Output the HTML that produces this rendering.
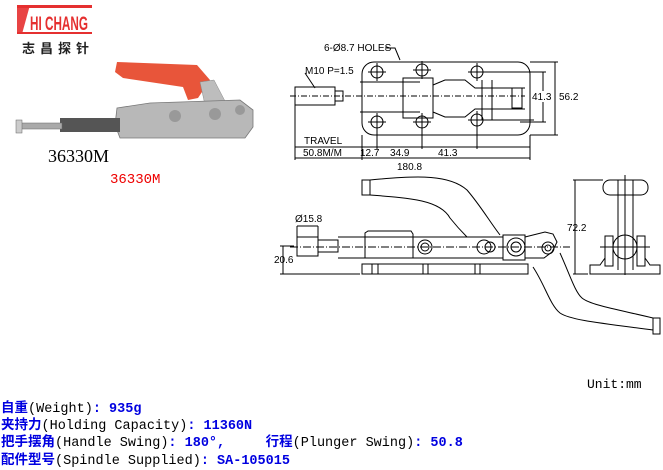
<!DOCTYPE html>
<html><head><meta charset="utf-8"><style>
body{margin:0;width:663px;height:470px;background:#fff;overflow:hidden;position:relative;font-family:"Liberation Sans","Noto Sans CJK SC",sans-serif}
.t{position:absolute;white-space:nowrap}
.info{position:absolute;left:1px;font-family:"Liberation Mono","Noto Sans CJK SC",monospace;font-size:13.5px;line-height:17px;color:#000;white-space:nowrap}
.b{color:#0000e0;font-weight:bold}
</style></head><body>
<svg width="663" height="470" style="position:absolute;left:0;top:0" font-family="Liberation Sans, sans-serif">
<!-- logo -->
<rect x="17" y="5" width="75" height="3" fill="#e53030"/>
<polygon points="17,5 30,5 22,34 17,34" fill="#e53030" opacity="0.9"/>
<rect x="17" y="32" width="75" height="2" fill="#e53030"/>
<text x="30" y="30" font-size="19" font-weight="bold" fill="#e53030" textLength="58" lengthAdjust="spacingAndGlyphs">HI CHANG</text>
<text x="22" y="53" font-size="13" font-weight="bold" fill="#222" font-family="Noto Sans CJK SC,sans-serif" letter-spacing="5">志昌探针</text>
<!-- photo -->
<polygon points="117,62 197,65 210,80 198,98 188,100 183,87 123,78 115,72" fill="#e8553a"/>
<polygon points="200,82 214,80 226,103 205,105" fill="#bdbdbd" stroke="#888" stroke-width="0.5"/>
<polygon points="117,108 150,103 240,100 253,110 253,127 245,138 120,138 115,125" fill="#b8b8b8" stroke="#777" stroke-width="0.8"/>
<rect x="60" y="118" width="60" height="14" fill="#555"/>
<rect x="20" y="123" width="42" height="6" fill="#aaa" stroke="#666" stroke-width="0.5"/>
<rect x="16" y="120" width="6" height="13" fill="#ccc" stroke="#666" stroke-width="0.5"/>
<circle cx="175" cy="116" r="6" fill="#999"/><circle cx="215" cy="114" r="6" fill="#999"/><circle cx="240" cy="110" r="5" fill="#999"/>
<text x="48" y="162" font-size="18" font-family="Liberation Serif,serif" fill="#000">36330M</text>
<text x="110" y="183" font-size="14" font-family="Liberation Mono,monospace" fill="#e00">36330M</text>
<!-- top view -->
<g stroke="#000" stroke-width="1" fill="none">
<rect x="362" y="62" width="168" height="73" rx="12"/>
<g>
<circle cx="377" cy="72" r="6"/><circle cx="422" cy="70" r="6"/><circle cx="477" cy="72" r="6"/>
<circle cx="377" cy="122" r="6"/><circle cx="422" cy="122" r="6"/><circle cx="477" cy="120" r="6"/>
<path d="M368 72h18M377 63v18M413 70h18M422 61v18M468 72h66M477 63v18M368 122h18M377 113v36M413 122h18M422 113v36M468 120h66M477 111v38"/>
</g>
<rect x="295" y="87" width="40" height="18"/><rect x="335" y="91" width="8" height="10"/>
<path d="M360 82h60M360 112h60M403 78h30v40h-30zM433 85l12-5h20l10 8h50M433 112l12 5h20l10-8h50M482 80v40M492 80v40M512 88h10v20h-10z"/>
<path d="M290 96h235" stroke-dasharray="6,2,1,2"/>
<path d="M530 62h28M530 135h28M555 62v73M520 72h26M520 122h26M543 72v50"/>
<path d="M295 105v55M362 135v25M530 135v25M295 147h235M295 158h235"/>
<path d="M305 73l10 15M385 48h10l5 12"/>
</g>
<rect x="532" y="91" width="20" height="11" fill="#fff"/>
<g font-size="10" fill="#000">
<text x="324" y="51">6-Ø8.7 HOLES</text>
<text x="305" y="74">M10 P=1.5</text>
<text x="532" y="100">41.3</text><text x="559" y="100">56.2</text>
<text x="304" y="144">TRAVEL</text>
<text x="303" y="156">50.8M/M</text><text x="360" y="156">12.7</text><text x="390" y="156">34.9</text><text x="438" y="156">41.3</text>
<text x="397" y="170">180.8</text>
</g>
<!-- side view -->
<g stroke="#000" stroke-width="1" fill="none">
<path d="M370 180 C420 175 450 175 467 190 C480 205 490 222 500 235"/>
<path d="M370 195 C410 198 440 200 450 218 C458 228 462 232 467 237"/>
<path d="M362 180h8v15h-8z"/>
<path d="M533 267 C545 285 550 305 560 313 C570 320 600 323 653 330"/>
<path d="M560 253 C570 275 575 292 582 298 C590 305 620 310 653 318"/>
<path d="M653 318h7v16h-7z"/>
<rect x="297" y="237" width="21" height="19"/><rect x="318" y="240" width="20" height="12"/>
<path d="M338 237h165v21h-165"/>
<path d="M365 258v-25l3-2h43l2 3v24"/>
<rect x="362" y="264" width="166" height="10"/>
<path d="M372 264v10M378 264v10M423 264v10M428 264v10M475 264v10M480 264v10"/>
<circle cx="425" cy="247" r="7"/><circle cx="425" cy="247" r="4"/>
<circle cx="484" cy="247" r="7"/><circle cx="490" cy="247" r="5"/>
<rect x="503" y="235" width="22" height="25"/><circle cx="516" cy="247" r="9"/><circle cx="516" cy="247" r="5"/>
<path d="M525 237l20-5 8 2 4 8-5 10-8 6-19 0"/><circle cx="548" cy="248" r="6"/><circle cx="548" cy="248" r="3"/>
<path d="M290 247h280" stroke-dasharray="8,2,1,2"/>
<path d="M283 246v28M280 246h14M280 274h80M297 226v11M297 226h21M318 226v11"/>
<path d="M575 180v94M573 180h30M573 274h15"/>
<rect x="603" y="180" width="45" height="15" rx="7"/>
<path d="M618 180v90M633 180v90M625 175v100"/>
<circle cx="625" cy="247" r="12"/>
<path d="M605 236h8v30h-8zM637 236h8v30h-8zM605 258l-5 7h-10v9h70v-9h-10l-5-7"/>
<path d="M600 247h50"/>
</g>
<g font-size="10" fill="#000">
<text x="295" y="222">Ø15.8</text><text x="274" y="263">20.6</text><text x="567" y="231">72.2</text>
</g>
</svg>
<div class="t" style="left:587px;top:377px;font-family:'Liberation Mono',monospace;font-size:13px">Unit:mm</div>
<div class="info" style="top:401px"><span class="b">自重</span>(Weight)<span class="b">: 935g</span></div>
<div class="info" style="top:418px"><span class="b">夹持力</span>(Holding Capacity)<span class="b">: 11360N</span></div>
<div class="info" style="top:435px"><span class="b">把手摆角</span>(Handle Swing)<span class="b">: 180°,</span>&nbsp;&nbsp;&nbsp;&nbsp;&nbsp;<span class="b">行程</span>(Plunger Swing)<span class="b">: 50.8</span></div>
<div class="info" style="top:453px"><span class="b">配件型号</span>(Spindle Supplied)<span class="b">: SA-105015</span></div>
</body></html>
